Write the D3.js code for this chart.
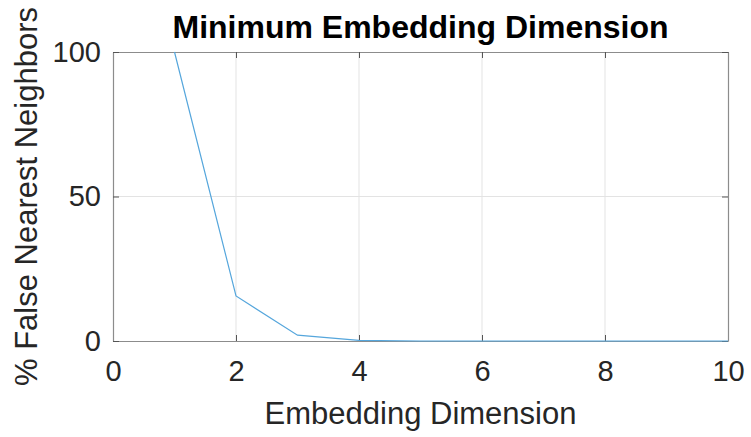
<!DOCTYPE html>
<html>
<head>
<meta charset="utf-8">
<script src="https://cdn.jsdelivr.net/npm/d3@7/dist/d3.min.js"></script>
<style>
  html, body { margin: 0; padding: 0; background: #ffffff; }
  svg { display: block; }
  text { font-family: "Liberation Sans", Arial, Helvetica, sans-serif; }
</style>
</head>
<body>
<svg id="chart" width="751" height="437"></svg>
<script>
const dimensions = [1, 2, 3, 4, 5, 6, 7, 8, 9, 10];
const fnnPercent = [100, 15.6, 2.0, 0.2, 0, 0, 0, 0, 0, 0];
const xTicks = [0, 2, 4, 6, 8, 10];
const yTicks = [0, 50, 100];
const titleText = "Minimum Embedding Dimension";
const xLabelText = "Embedding Dimension";
const yLabelText = "% False Nearest Neighbors";

const svg = d3.select("#chart");
const W = 751, H = 437;
const m = { left: 113, right: 751 - 728, top: 52, bottom: 437 - 341 };
const x = d3.scaleLinear().domain([0, 10]).range([m.left, W - m.right]);
const y = d3.scaleLinear().domain([0, 100]).range([H - m.bottom, m.top]);

const textColor = "#262626";
const axisColor = "#8c8c8c";
const gridColor = "#e3e3e3";

svg.append("rect").attr("width", W).attr("height", H).attr("fill", "#ffffff");

// grid
const grid = svg.append("g");
grid.selectAll("line.gx").data(xTicks.filter(d => d > 0 && d < 10)).join("line")
  .attr("x1", d => x(d)).attr("x2", d => x(d))
  .attr("y1", y(0)).attr("y2", y(100))
  .attr("stroke", gridColor).attr("stroke-width", 1);
grid.selectAll("line.gy").data(yTicks.filter(d => d > 0 && d < 100)).join("line")
  .attr("x1", x(0)).attr("x2", x(10))
  .attr("y1", d => y(d)).attr("y2", d => y(d))
  .attr("stroke", gridColor).attr("stroke-width", 1);

// axes with inward ticks
const tickLen = 6;
const styleAxis = g => {
  g.selectAll(".domain").attr("stroke", axisColor).attr("stroke-width", 1.2);
  g.selectAll(".tick line").attr("stroke", "#555555").attr("stroke-width", 1);
  g.selectAll(".tick text").attr("fill", textColor)
    .style("font-size", "29px");
};

svg.append("g").attr("transform", `translate(0,${y(0)})`)
  .call(d3.axisBottom(x).tickValues(xTicks).tickSizeInner(-tickLen).tickSizeOuter(0).tickPadding(19).tickFormat(d3.format("d")))
  .call(styleAxis);
svg.append("g").attr("transform", `translate(0,${y(100)})`)
  .call(d3.axisTop(x).tickValues(xTicks).tickSizeInner(-tickLen).tickSizeOuter(0).tickFormat(""))
  .call(styleAxis);
svg.append("g").attr("transform", `translate(${x(0)},0)`)
  .call(d3.axisLeft(y).tickValues(yTicks).tickSizeInner(-tickLen).tickSizeOuter(0).tickPadding(12).tickFormat(d3.format("d")))
  .call(styleAxis);
svg.append("g").attr("transform", `translate(${x(10)},0)`)
  .call(d3.axisRight(y).tickValues(yTicks).tickSizeInner(-tickLen).tickSizeOuter(0).tickFormat(""))
  .call(styleAxis);

// data line
const line = d3.line().x((d, i) => x(dimensions[i])).y(d => y(d));
svg.append("path")
  .datum(fnnPercent)
  .attr("d", line)
  .attr("fill", "none")
  .attr("stroke", "#55a6dc")
  .attr("stroke-width", 1.2);

// title
svg.append("text")
  .attr("x", (x(0) + x(10)) / 2).attr("y", 38)
  .attr("text-anchor", "middle")
  .attr("fill", "#000000")
  .style("font-size", "32px").style("font-weight", "bold")
  .text(titleText);

// x label
svg.append("text")
  .attr("x", (x(0) + x(10)) / 2).attr("y", 424)
  .attr("text-anchor", "middle")
  .attr("fill", textColor)
  .style("font-size", "31px")
  .text(xLabelText);

// y label
svg.append("text")
  .attr("transform", `translate(37,${(y(0) + y(100)) / 2}) rotate(-90)`)
  .attr("text-anchor", "middle")
  .attr("fill", textColor)
  .style("font-size", "31px")
  .text(yLabelText);
</script>
</body>
</html>
